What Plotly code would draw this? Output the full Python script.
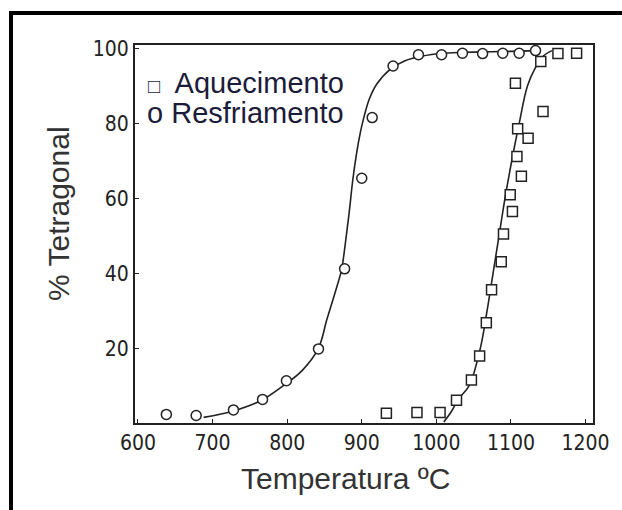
import plotly.graph_objects as go

# Data points
aquec_T = [933, 974, 1005, 1027, 1047, 1058, 1067, 1074, 1087, 1090, 1102, 1099, 1114, 1108, 1123, 1109, 1143, 1106, 1140, 1163, 1188]
aquec_pct = [2.6, 2.8, 2.8, 6.1, 11.5, 17.9, 26.8, 35.6, 43.1, 50.5, 56.5, 61.0, 65.9, 71.2, 76.1, 78.6, 83.2, 90.8, 96.6, 98.7, 98.8]

resf_T = [638, 678, 728, 767, 799, 842, 877, 900, 914, 942, 976, 1007, 1035, 1062, 1089, 1111, 1133]
resf_pct = [2.3, 2.0, 3.5, 6.3, 11.3, 19.8, 41.2, 65.4, 81.6, 95.4, 98.4, 98.4, 98.8, 98.7, 98.8, 98.8, 99.5]

# Fitted curves
resf_curve_T = [688, 728, 765, 795, 820, 842, 853, 863, 869, 873, 878, 883, 888, 893, 898, 902, 910, 920, 938, 958, 980, 1010, 1050, 1100, 1133]
resf_curve_pct = [1.5, 3.2, 6.0, 10.0, 14.0, 20.0, 27.5, 34.0, 38.0, 41.0, 48.0, 56.0, 65.0, 72.0, 77.5, 81.0, 86.5, 90.5, 94.5, 96.8, 98.0, 98.8, 99.1, 99.3, 99.5]

aquec_curve_T = [1010, 1020, 1030, 1044, 1059, 1068, 1076, 1084, 1092, 1101, 1111, 1122, 1133, 1143, 1155]
aquec_curve_pct = [0.3, 3.0, 6.5, 10.0, 20.0, 30.0, 40.0, 50.0, 60.0, 70.0, 80.0, 90.0, 95.0, 98.0, 99.5]

x_ticks = [600, 700, 800, 900, 1000, 1100, 1200]
y_ticks = [20, 40, 60, 80, 100]

fig = go.Figure()

fig.add_trace(go.Scatter(x=resf_curve_T, y=resf_curve_pct, mode="lines",
                         line=dict(color="#222", width=1.6, shape="spline"),
                         showlegend=False, hoverinfo="skip"))
fig.add_trace(go.Scatter(x=aquec_curve_T, y=aquec_curve_pct, mode="lines",
                         line=dict(color="#222", width=1.6, shape="spline"),
                         showlegend=False, hoverinfo="skip"))
fig.add_trace(go.Scatter(x=resf_T, y=resf_pct, mode="markers", name="Resfriamento",
                         marker=dict(symbol="circle", size=10, color="white",
                                     line=dict(color="#222", width=1.5)),
                         showlegend=False))
fig.add_trace(go.Scatter(x=aquec_T, y=aquec_pct, mode="markers", name="Aquecimento",
                         marker=dict(symbol="square", size=10, color="white",
                                     line=dict(color="#222", width=1.5)),
                         showlegend=False))

tick_font = dict(family="DejaVu Sans Condensed, Liberation Sans Narrow, Arial Narrow, Arial", size=21, color="#222")
title_font = dict(family="Liberation Sans, Arial", size=30, color="#333")

# plot area in window pixels
FW, FH = 622, 510
PX0, PX1, PY0, PY1 = 135, 593, 45, 423
W, H = PX1 - PX0, PY1 - PY0


def px_x(x):
    return (x - PX0) / W


def px_y(y):
    return 1 - (y - PY0) / H


fig.update_xaxes(range=[596, 1210], tickvals=x_ticks, ticktext=[str(v) for v in x_ticks],
                 showgrid=False, zeroline=False, showline=True, mirror=True,
                 linecolor="#222", linewidth=2, ticks="inside", ticklen=4, tickcolor="#222",
                 tickfont=tick_font)
fig.update_yaxes(range=[0, 101], tickvals=y_ticks, ticktext=[str(v) for v in y_ticks],
                 showgrid=False, zeroline=False, showline=True, mirror=True,
                 linecolor="#222", linewidth=2, ticks="inside", ticklen=4, tickcolor="#222",
                 tickfont=tick_font)

# axis titles
fig.add_annotation(xref="paper", yref="paper", x=px_x(345), y=px_y(478),
                   xanchor="center", yanchor="middle", showarrow=False,
                   text="Temperatura ºC", font=title_font)
fig.add_annotation(xref="paper", yref="paper", x=px_x(58), y=px_y(214),
                   xanchor="center", yanchor="middle", showarrow=False, textangle=-90,
                   text="% Tetragonal", font=title_font)

legend_color = "#1c1c3a"
fig.add_annotation(xref="paper", yref="paper", x=px_x(146), y=px_y(83),
                   xanchor="left", yanchor="middle", showarrow=False,
                   text="<span style='font-size:20px'>□</span>  Aquecimento",
                   font=dict(family="Liberation Sans, Arial", size=29, color=legend_color))
fig.add_annotation(xref="paper", yref="paper", x=px_x(145), y=px_y(113),
                   xanchor="left", yanchor="middle", showarrow=False,
                   text="o Resfriamento",
                   font=dict(family="Liberation Sans, Arial", size=29, color=legend_color))

# outer black frame of the picture (runs off the right and bottom edges)
fig.add_shape(type="rect", xref="paper", yref="paper",
              x0=px_x(11), x1=px_x(700), y0=px_y(560), y1=px_y(13),
              line=dict(color="black", width=4), fillcolor="rgba(0,0,0,0)", layer="above")

fig.update_layout(width=FW, height=FH,
                  margin=dict(l=PX0, r=FW - PX1, t=PY0, b=FH - PY1),
                  paper_bgcolor="white", plot_bgcolor="white",
                  showlegend=False)

fig.write_html("out.html", config={"displayModeBar": False},
               post_script="document.body.style.margin='0';document.body.style.overflow='hidden';")
